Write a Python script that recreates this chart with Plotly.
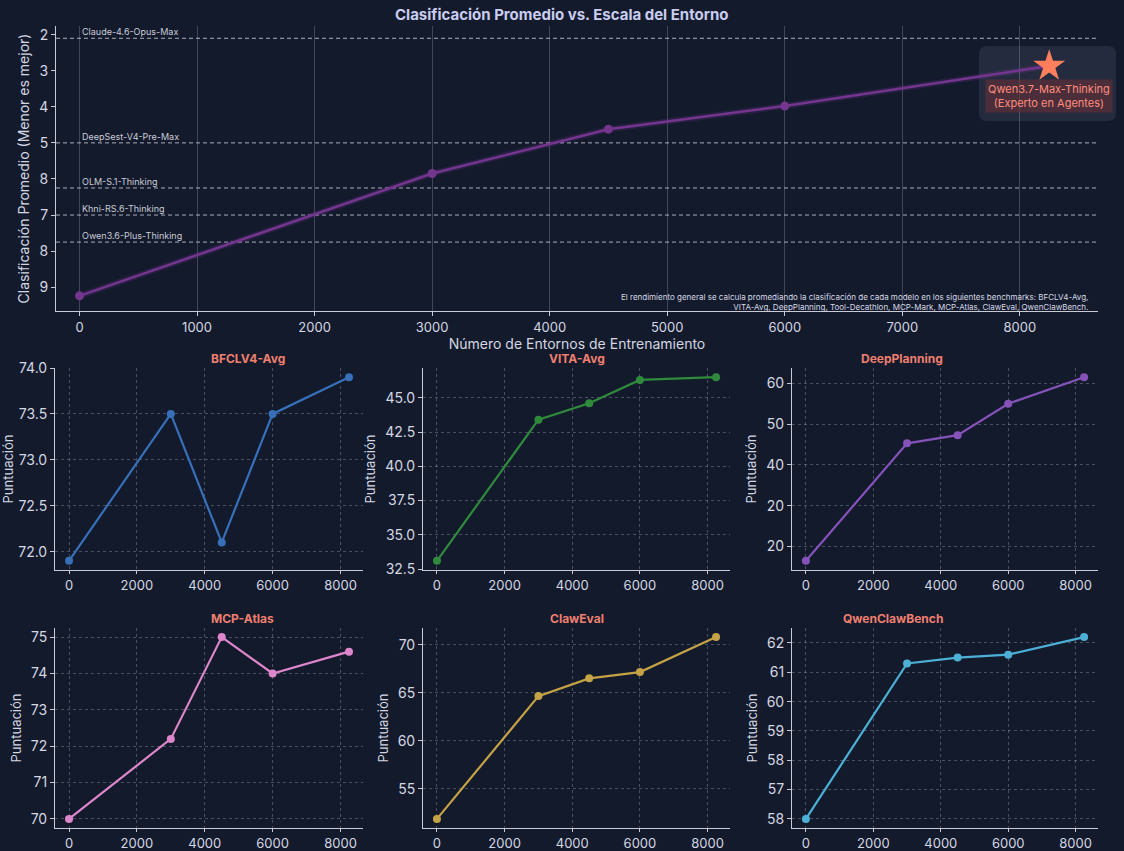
import plotly.graph_objects as go

# ---------------- data ----------------
env_x = [0, 3000, 4500, 6000]
avg_rank = [9.24, 5.85, 4.62, 3.98]
star_x = [8250]
star_rank = [2.87]
star_label = "Qwen3.7-Max-Thinking<br>(Experto en Agentes)"

ref_models = ["Claude-4.6-Opus-Max", "DeepSest-V4-Pre-Max", "OLM-S.1-Thinking",
              "Khni-RS.6-Thinking", "Owen3.6-Plus-Thinking"]
ref_ranks = [2.1, 5.0, 6.25, 7.0, 7.75]

rank_tickvals = [2, 3, 4, 5, 6, 7, 8, 9]
rank_ticktext = ["2", "3", "4", "5", "8", "7", "8", "9"]

bench_x = [0, 3000, 4500, 6000, 8250]
bench_names = ["BFCLV4-Avg", "VITA-Avg", "DeepPlanning", "MCP-Atlas", "ClawEval", "QwenClawBench"]
bfcl = [71.9, 73.5, 72.1, 73.5, 73.9]
vita = [33.1, 43.4, 44.6, 46.3, 46.5]
deepplanning = [16.5, 45.3, 47.3, 55.0, 61.5]
mcp_atlas = [70.0, 72.2, 75.0, 74.0, 74.6]
claweval = [51.85, 64.65, 66.5, 67.15, 70.8]
qwenclaw = [56.0, 61.3, 61.5, 61.6, 62.2]
bench_values = [bfcl, vita, deepplanning, mcp_atlas, claweval, qwenclaw]
bench_colors = ["#3770b8", "#2f8a3c", "#8452b8", "#de86cc", "#c4a245", "#4cb0d6"]

bench_ticks = [
    ([72.0, 72.5, 73.0, 73.5, 74.0], ["72.0", "72.5", "73.0", "73.5", "74.0"]),
    ([32.5, 35.0, 37.5, 40.0, 42.5, 45.0], ["32.5", "35.0", "37.5", "40.0", "42.5", "45.0"]),
    ([20, 30, 40, 50, 60], ["20", "20", "40", "50", "60"]),
    ([70, 71, 72, 73, 74, 75], ["70", "71", "72", "73", "74", "75"]),
    ([55, 60, 65, 70], ["55", "60", "65", "70"]),
    ([56, 57, 58, 59, 60, 61, 62], ["58", "57", "58", "59", "60", "61", "62"]),
]

note = ("El rendimiento general se calcula promediando la clasificación de cada modelo en los siguientes benchmarks: BFCLV4-Avg,<br>"
        "VITA-Avg, DeepPlanning, Tool-Decathlon, MCP-Mark, MCP-Atlas, ClawEval, QwenClawBench.")

# ---------------- style ----------------
BG = "#131a2c"
TXT = "#d4d7e2"
SPINE = "#c8cbd6"
GRID = "rgba(200,205,220,0.30)"
FONT = "Inter, Noto Sans, DejaVu Sans, sans-serif"
W, H = 1124, 851

def px_x(p):
    return p / W

def px_y(p):
    return 1 - p / H

fig = go.Figure()

# ---------------- top chart ----------------
fig.add_trace(go.Scatter(x=env_x + star_x, y=avg_rank + star_rank, mode="lines",
                         line=dict(color="rgba(140,60,170,0.18)", width=6),
                         hoverinfo="skip", showlegend=False, xaxis="x", yaxis="y"))
fig.add_trace(go.Scatter(x=env_x + star_x, y=avg_rank + star_rank, mode="lines",
                         line=dict(color="#74358f", width=2.5),
                         showlegend=False, xaxis="x", yaxis="y"))
fig.add_trace(go.Scatter(x=env_x, y=avg_rank, mode="markers",
                         marker=dict(color="#74358f", size=9),
                         showlegend=False, xaxis="x", yaxis="y"))
fig.add_trace(go.Scatter(x=star_x, y=star_rank, mode="markers",
                         marker=dict(color="#ff7f5c", size=24, symbol="star"),
                         showlegend=False, xaxis="x", yaxis="y"))

shapes = []
annotations = []
for name, r in zip(ref_models, ref_ranks):
    shapes.append(dict(type="line", xref="x domain", yref="y", x0=0, x1=1, y0=r, y1=r,
                       line=dict(color="rgba(220,224,235,0.75)", width=1, dash="4px,3px"), layer="below"))
    annotations.append(dict(x=0, y=r, xref="x", yref="y", text=name, showarrow=False,
                            xanchor="left", yanchor="bottom", yshift=-1,
                            font=dict(size=9, color="#c9ccd8", family=FONT)))

# rounded box behind the star label
x0, x1, y0, y1 = px_x(979), px_x(1116), px_y(121), px_y(46)
rx, ry = 8 / W, 8 / H
path = (f"M {x0+rx},{y0} L {x1-rx},{y0} Q {x1},{y0} {x1},{y0+ry} L {x1},{y1-ry} Q {x1},{y1} {x1-rx},{y1} "
        f"L {x0+rx},{y1} Q {x0},{y1} {x0},{y1-ry} L {x0},{y0+ry} Q {x0},{y0} {x0+rx},{y0} Z")
shapes.append(dict(type="path", xref="paper", yref="paper", path=path,
                   fillcolor="#252b3f", line=dict(width=0), layer="below"))

annotations.append(dict(x=star_x[0], y=star_rank[0], xref="x", yref="y", text=star_label,
                        showarrow=False, yanchor="top", yshift=-13, align="center",
                        bgcolor="rgba(110,50,55,0.55)", borderpad=2,
                        font=dict(size=11, color="#ff8d7d", family=FONT)))
annotations.append(dict(x=px_x(1090), y=px_y(290), xref="paper", yref="paper", text=note,
                        showarrow=False, xanchor="right", yanchor="top", align="right",
                        font=dict(size=8, color="#d6d9e4", family=FONT)))
annotations.append(dict(x=0.5, y=px_y(15), xref="paper", yref="paper",
                        text="<b>Clasificación Promedio vs. Escala del Entorno</b>",
                        showarrow=False, yanchor="middle",
                        font=dict(size=15, color="#c9cdf0", family=FONT)))

layout = dict(
    width=W, height=H, paper_bgcolor=BG, plot_bgcolor="rgba(0,0,0,0)",
    margin=dict(l=0, r=0, t=0, b=0),
    font=dict(family=FONT, color=TXT),
    showlegend=False,
    xaxis=dict(domain=[px_x(56), px_x(1098)], anchor="y", range=[-200, 8665], automargin=False,
               tickvals=[0, 1000, 2000, 3000, 4000, 5000, 6000, 7000, 8000],
               showgrid=True, gridcolor="rgba(200,205,220,0.25)", gridwidth=1,
               zeroline=False, showline=True, linecolor=SPINE, linewidth=1,
               ticks="outside", ticklen=4, tickcolor=SPINE,
               tickfont=dict(size=13, color=TXT),
               title=dict(text="Número de Entornos de Entrenamiento", font=dict(size=14, color=TXT), standoff=4)),
    yaxis=dict(domain=[px_y(311), px_y(26)], anchor="x", range=[9.66, 1.76], automargin=False,
               tickvals=rank_tickvals, ticktext=rank_ticktext,
               showgrid=False, zeroline=False, showline=True, linecolor=SPINE, linewidth=1,
               ticks="outside", ticklen=4, tickcolor=SPINE,
               tickfont=dict(size=14, color=TXT),
               title=dict(text="Clasificación Promedio (Menor es mejor)", font=dict(size=14, color=TXT), standoff=6)),
)

# ---------------- small multiples ----------------
col_px = [(55, 363), (423, 730), (792, 1098)]
row_px = [(368, 570), (628, 828)]

for i, (name, vals, color, (tv, tt)) in enumerate(zip(bench_names, bench_values, bench_colors, bench_ticks)):
    r, c = divmod(i, 3)
    ax = i + 2
    xa, ya = f"x{ax}", f"y{ax}"
    xl, xr = col_px[c]
    yt, yb = row_px[r]
    vmin, vmax = min(vals), max(vals)
    pad = (vmax - vmin) * 0.05
    fig.add_trace(go.Scatter(x=bench_x, y=vals, mode="lines+markers",
                             line=dict(color=color, width=2.2),
                             marker=dict(color=color, size=8),
                             showlegend=False, xaxis=xa, yaxis=ya))
    layout[f"xaxis{ax}"] = dict(domain=[px_x(xl), px_x(xr)], anchor=ya, range=[-412.5, 8662.5],
                                automargin=False, tickvals=[0, 2000, 4000, 6000, 8000],
                                showgrid=True, gridcolor=GRID, griddash="3px,3px", gridwidth=1,
                                zeroline=False, showline=True, linecolor=SPINE, linewidth=1,
                                ticks="outside", ticklen=3, tickcolor=SPINE,
                                tickfont=dict(size=13, color=TXT))
    layout[f"yaxis{ax}"] = dict(domain=[px_y(yb), px_y(yt)], anchor=xa,
                                range=[vmin - pad, vmax + pad], automargin=False,
                                tickvals=tv, ticktext=tt,
                                showgrid=True, gridcolor=GRID, griddash="3px,3px", gridwidth=1,
                                zeroline=False, showline=True, linecolor=SPINE, linewidth=1,
                                ticks="outside", ticklen=4, tickcolor=SPINE,
                                tickfont=dict(size=14, color=TXT),
                                title=dict(text="Puntuación", font=dict(size=13, color=TXT), standoff=6))
    annotations.append(dict(x=(px_x(xl) + px_x(xr)) / 2, y=px_y(yt - 10), xref="paper", yref="paper",
                            text=f"<b>{name}</b>", showarrow=False, yanchor="middle",
                            font=dict(size=12, color="#ee7f6f", family=FONT)))

layout["shapes"] = shapes
layout["annotations"] = annotations
fig.update_layout(**layout)
fig.write_html("out.html", config={"displayModeBar": False},
               post_script="document.body.style.margin='0';document.body.style.padding='0';"
                           "document.body.style.overflow='hidden';"
                           "document.documentElement.style.background='" + BG + "';")
